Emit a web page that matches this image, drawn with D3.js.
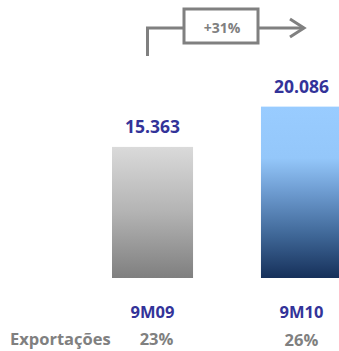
<!DOCTYPE html>
<html>
<head>
<meta charset="utf-8">
<script src="https://cdn.jsdelivr.net/npm/d3@7"></script>
<style>
  html, body { margin: 0; padding: 0; background: #fff; }
  svg { display: block; }
</style>
</head>
<body>
<svg id="chart" width="339" height="351"></svg>
<script>
// Period labels, values (thousand units) and export share
const periods = ["9M09", "9M10"];
const values = [15.363, 20.086];
const exportShare = ["23%", "26%"];
const growthLabel = "+31%";
const rowLabel = "Exportações";

const svg = d3.select("#chart");
const fontFamily = "'Open Sans', 'DejaVu Sans', sans-serif";
const blue = "#333399";
const grey = "#808080";

const baseline = 278;
const x = d3.scaleBand().domain(periods).range([112, 342]).paddingInner(0.456).paddingOuter(0);
const y = d3.scaleLinear().domain([0, 25]).range([baseline, baseline - 213.3]);

// Gradients for each bar
const defs = svg.append("defs");
const gradients = [
  { id: "g0", stops: [[0, "#dadada"], [0.5, "#b3b3b3"], [1, "#7f7f7f"]] },
  { id: "g1", stops: [[0, "#99ccff"], [0.3, "#94c7fa"], [0.5, "#6d9bd0"], [0.75, "#3f6797"], [1, "#16305a"]] }
];
gradients.forEach(g => {
  const lg = defs.append("linearGradient").attr("id", g.id)
    .attr("x1", 0).attr("y1", 0).attr("x2", 0).attr("y2", 1);
  g.stops.forEach(s => lg.append("stop").attr("offset", s[0]).attr("stop-color", s[1]));
});

// Bars
svg.selectAll("rect.bar").data(values).join("rect")
  .attr("class", "bar")
  .attr("x", (d, i) => x(periods[i]))
  .attr("y", d => y(d))
  .attr("width", x.bandwidth())
  .attr("height", d => y(0) - y(d))
  .attr("fill", (d, i) => `url(#g${i})`);

const cx = p => x(p) + x.bandwidth() / 2;
const fmt = d => d3.format(".3f")(d);

// Value labels
svg.selectAll("text.val").data(values).join("text")
  .attr("class", "val")
  .attr("x", (d, i) => cx(periods[i]))
  .attr("y", d => y(d) - 14)
  .attr("text-anchor", "middle")
  .attr("font-family", fontFamily).attr("font-weight", "bold")
  .attr("font-size", 17.5).attr("fill", blue)
  .text(d => fmt(d));

// Period labels
svg.selectAll("text.per").data(periods).join("text")
  .attr("class", "per")
  .attr("x", d => cx(d))
  .attr("y", 318)
  .attr("text-anchor", "middle")
  .attr("font-family", fontFamily).attr("font-weight", "bold")
  .attr("font-size", 16.5).attr("fill", blue)
  .text(d => d);

// Export share row
svg.append("text")
  .attr("x", 10).attr("y", 345)
  .attr("font-family", fontFamily).attr("font-weight", "bold")
  .attr("font-size", 16.5).attr("fill", grey)
  .text(rowLabel);

svg.selectAll("text.share").data(exportShare).join("text")
  .attr("class", "share")
  .attr("x", (d, i) => cx(periods[i]) + (i === 0 ? 4 : 0))
  .attr("y", (d, i) => 345 + i * 1)
  .attr("text-anchor", "middle")
  .attr("font-family", fontFamily).attr("font-weight", "bold")
  .attr("font-size", 16.5).attr("fill", grey)
  .text(d => d);

// Growth connector with boxed label and arrow
const g = svg.append("g").attr("stroke", grey).attr("stroke-width", 3).attr("fill", "none");
g.append("path").attr("d", "M147.5,56 V28 H184");
g.append("rect").attr("x", 184).attr("y", 9).attr("width", 74).attr("height", 34)
  .attr("fill", "#fff");
g.append("path").attr("d", "M258,28 H304");
g.append("path").attr("d", "M290,19 L304,28 L290,37").attr("stroke-linejoin", "miter");

svg.append("text")
  .attr("x", 222).attr("y", 32.5)
  .attr("text-anchor", "middle")
  .attr("font-family", fontFamily).attr("font-weight", "bold")
  .attr("font-size", 14).attr("fill", grey)
  .text(growthLabel);
</script>
</body>
</html>
